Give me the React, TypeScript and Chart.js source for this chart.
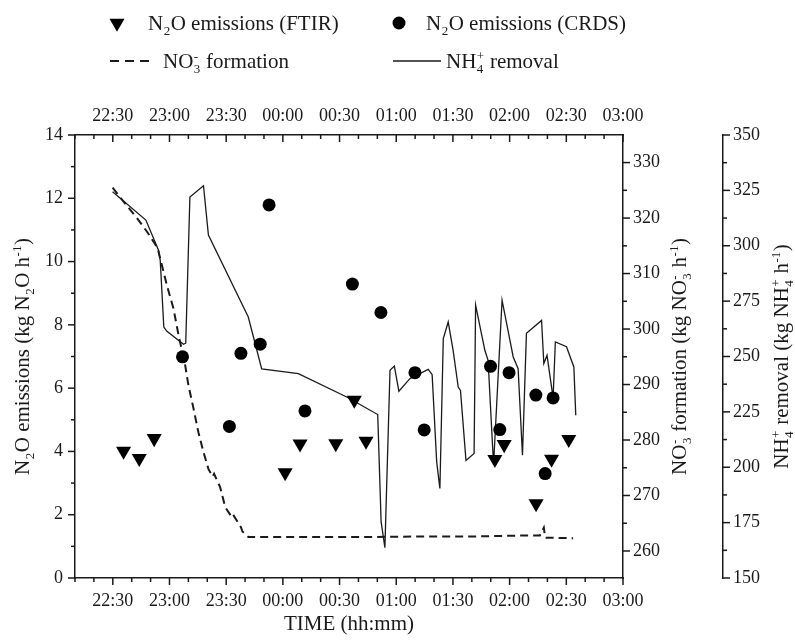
import React, { useEffect, useRef } from "react";
import { Chart, registerables } from "chart.js";

Chart.register(...registerables);

// Time values are minutes after 22:00
const ftirTime = [35.7, 44.0, 51.9, 121.2, 129.1, 148.0, 157.8, 164.0, 232.2, 237.1, 254.0, 262.2, 271.3];
const ftirN2O = [4.01, 3.78, 4.41, 3.33, 4.24, 4.25, 5.62, 4.33, 3.75, 4.22, 2.35, 3.76, 4.38];

const crdsTime = [66.9, 91.7, 97.8, 108.0, 112.7, 131.7, 156.8, 171.9, 189.9, 194.8, 229.9, 234.8, 239.7, 253.9, 258.8, 263.0];
const crdsN2O = [6.99, 4.79, 7.1, 7.39, 11.79, 5.28, 9.29, 8.39, 6.49, 4.68, 6.69, 4.69, 6.49, 5.78, 3.3, 5.69];

const no3Time = [29.9, 37.5, 42.8, 48.4, 53.7, 56.0, 58.6, 62.1, 64.8, 68.3, 70.0, 72.7, 75.3, 78.0, 80.6, 82.8, 83.6, 86.8, 89.5, 92.6, 93.4, 97.8, 98.6, 101.8, 130.0, 160.0, 190.0, 220.0, 250.0, 256.0, 258.1, 258.8, 273.6];
const no3Formation = [325.5, 322.2, 320.0, 317.4, 314.6, 311.5, 307.9, 303.7, 298.9, 293.5, 289.9, 285.7, 281.4, 277.8, 274.8, 273.4, 273.9, 271.5, 267.9, 266.3, 266.7, 264.3, 263.5, 262.5, 262.5, 262.5, 262.6, 262.6, 262.8, 262.8, 264.2, 262.4, 262.3];

const nh4Time = [29.9, 47.5, 54.2, 55.1, 57.0, 58.5, 67.4, 68.6, 70.8, 78.0, 80.6, 101.7, 108.8, 128.2, 153.8, 170.2, 172.0, 174.0, 176.7, 179.0, 181.4, 187.2, 196.9, 199.0, 201.4, 203.1, 204.9, 207.5, 210.1, 212.8, 214.0, 216.9, 221.2, 222.0, 226.9, 228.6, 231.5, 236.0, 241.9, 244.5, 246.8, 248.9, 256.9, 258.1, 259.8, 263.0, 264.2, 270.1, 274.0, 275.0];
const nh4Removal = [324.4, 311.6, 298.0, 293.4, 263.3, 261.5, 255.5, 256.0, 322.0, 327.1, 304.8, 267.8, 244.4, 242.3, 231.7, 223.8, 175.3, 163.7, 243.8, 245.7, 234.3, 240.0, 244.2, 241.8, 202.4, 190.4, 258.1, 265.6, 252.8, 236.2, 234.7, 203.1, 206.2, 273.2, 252.8, 248.3, 201.0, 275.4, 249.8, 244.5, 205.4, 260.5, 266.3, 246.8, 250.5, 231.3, 256.6, 254.4, 245.3, 223.5];

const xTickMinutes = [30, 60, 90, 120, 150, 180, 210, 240, 270, 300];
const n2oTicks = [0, 2, 4, 6, 8, 10, 12, 14];
const no3Ticks = [260, 270, 280, 290, 300, 310, 320, 330];
const nh4Ticks = [150, 175, 200, 225, 250, 275, 300, 325, 350];

const FONT = "'Liberation Serif', 'Times New Roman', serif";
const INK = "#1a1a1a";
const TICK_SIZE = 18;
const TITLE_SIZE = 21;

type Seg = [string, string];

const ftirLabel: Seg[] = [["N", ""], ["2", "sub"], ["O emissions (FTIR)", ""]];
const crdsLabel: Seg[] = [["N", ""], ["2", "sub"], ["O emissions (CRDS)", ""]];
const no3Label: Seg[] = [["NO", ""], ["3|-", "subsup"], [" formation", ""]];
const nh4Label: Seg[] = [["NH", ""], ["4|+", "subsup"], [" removal", ""]];
const leftTitle: Seg[] = [["N", ""], ["2", "sub"], ["O emissions (kg N", ""], ["2", "sub"], ["O h", ""], ["-1", "sup"], [")", ""]];
const no3Title: Seg[] = [["NO", ""], ["3|-", "subsup"], [" formation (kg NO", ""], ["3|-", "subsup"], [" h", ""], ["-1", "sup"], [")", ""]];
const nh4Title: Seg[] = [["NH", ""], ["4|+", "subsup"], [" removal (kg NH", ""], ["4|+", "subsup"], [" h", ""], ["-1", "sup"], [")", ""]];
const timeTitle: Seg[] = [["TIME (hh:mm)", ""]];

function fmtTime(v: number) {
  const total = 22 * 60 + v;
  const h = Math.floor(total / 60) % 24;
  const m = Math.round(total % 60);
  return String(h).padStart(2, "0") + ":" + String(m).padStart(2, "0");
}

function richWidth(ctx: CanvasRenderingContext2D, segs: Seg[], size: number) {
  let w = 0;
  const small = size * 0.62;
  for (const [t, m] of segs) {
    if (m === "") {
      ctx.font = `${size}px ${FONT}`;
      w += ctx.measureText(t).width;
    } else if (m === "subsup") {
      const [a, b] = t.split("|");
      ctx.font = `${small}px ${FONT}`;
      w += Math.max(ctx.measureText(a).width, ctx.measureText(b).width) + 1;
    } else {
      ctx.font = `${small}px ${FONT}`;
      w += ctx.measureText(t).width + 1;
    }
  }
  return w;
}

function drawRich(ctx: CanvasRenderingContext2D, segs: Seg[], x: number, y: number, size: number, align: "left" | "center") {
  const total = richWidth(ctx, segs, size);
  let cx = align === "center" ? x - total / 2 : x;
  const small = size * 0.62;
  ctx.textAlign = "left";
  ctx.textBaseline = "alphabetic";
  ctx.fillStyle = INK;
  for (const [t, m] of segs) {
    if (m === "") {
      ctx.font = `${size}px ${FONT}`;
      ctx.fillText(t, cx, y);
      cx += ctx.measureText(t).width;
    } else if (m === "sub") {
      ctx.font = `${small}px ${FONT}`;
      ctx.fillText(t, cx + 0.5, y + size * 0.25);
      cx += ctx.measureText(t).width + 1;
    } else if (m === "sup") {
      ctx.font = `${small}px ${FONT}`;
      ctx.fillText(t, cx + 0.5, y - size * 0.38);
      cx += ctx.measureText(t).width + 1;
    } else {
      const [a, b] = t.split("|");
      ctx.font = `${small}px ${FONT}`;
      ctx.fillText(a, cx + 0.5, y + size * 0.25);
      ctx.fillText(b, cx + 0.5, y - size * 0.38);
      cx += Math.max(ctx.measureText(a).width, ctx.measureText(b).width) + 1;
    }
  }
}

const MAJOR = 7;
const MINOR = 4;

const decorPlugin = {
  id: "decor",
  afterDraw(chart: any) {
    const ctx: CanvasRenderingContext2D = chart.ctx;
    const area = chart.chartArea;
    const sx = chart.scales.x;
    const sy = chart.scales.y;
    const sNo3 = chart.scales.yNO3;
    const sNh4 = chart.scales.yNH4;
    ctx.save();
    ctx.strokeStyle = INK;
    ctx.lineWidth = 1.5;
    const line = (x1: number, y1: number, x2: number, y2: number) => {
      ctx.beginPath();
      ctx.moveTo(x1, y1);
      ctx.lineTo(x2, y2);
      ctx.stroke();
    };
    for (let v = 10; v <= 300; v += 10) {
      const px = sx.getPixelForValue(v);
      const len = v % 30 === 0 ? MAJOR : MINOR;
      line(px, area.bottom, px, area.bottom + len);
      line(px, area.top, px, area.top + len);
    }
    for (let v = 0; v <= 14; v += 1) {
      const py = sy.getPixelForValue(v);
      const len = v % 2 === 0 ? MAJOR : MINOR;
      line(area.left - len, py, area.left, py);
    }
    for (let v = 260; v <= 330; v += 5) {
      const py = sNo3.getPixelForValue(v);
      const len = v % 10 === 0 ? MAJOR : MINOR;
      line(area.right, py, area.right + len, py);
    }
    for (let v = 150; v <= 350; v += 12.5) {
      const py = sNh4.getPixelForValue(v);
      const len = v % 25 === 0 ? MAJOR : MINOR;
      line(sNh4.left, py, sNh4.left + len, py);
    }

    const midY = (area.top + area.bottom) / 2;
    const capOff = TITLE_SIZE * 0.33;
    ctx.save();
    ctx.translate(22, midY);
    ctx.rotate(-Math.PI / 2);
    drawRich(ctx, leftTitle, 0, capOff, TITLE_SIZE, "center");
    ctx.restore();
    ctx.save();
    ctx.translate(area.right + 56, midY);
    ctx.rotate(-Math.PI / 2);
    drawRich(ctx, no3Title, 0, capOff, TITLE_SIZE, "center");
    ctx.restore();
    ctx.save();
    ctx.translate(sNh4.left + 58, midY);
    ctx.rotate(-Math.PI / 2);
    drawRich(ctx, nh4Title, 0, capOff, TITLE_SIZE, "center");
    ctx.restore();
    drawRich(ctx, timeTitle, (area.left + area.right) / 2, 630, TITLE_SIZE, "center");

    // legend
    const row1 = 23;
    const row2 = 61;
    ctx.fillStyle = "#000";
    const r = 8.7;
    ctx.beginPath();
    ctx.moveTo(117, row1 + r);
    ctx.lineTo(117 - r * 0.866, row1 - r / 2);
    ctx.lineTo(117 + r * 0.866, row1 - r / 2);
    ctx.closePath();
    ctx.fill();
    drawRich(ctx, ftirLabel, 148, row1 + capOff, TITLE_SIZE, "left");
    ctx.fillStyle = "#000";
    ctx.beginPath();
    ctx.arc(399, row1, 6.5, 0, Math.PI * 2);
    ctx.fill();
    drawRich(ctx, crdsLabel, 426, row1 + capOff, TITLE_SIZE, "left");
    ctx.strokeStyle = INK;
    ctx.lineWidth = 2;
    ctx.setLineDash([9, 6]);
    line(110, row2, 153, row2);
    ctx.setLineDash([]);
    drawRich(ctx, no3Label, 163, row2 + capOff, TITLE_SIZE, "left");
    ctx.lineWidth = 1.3;
    line(393, row2, 441, row2);
    drawRich(ctx, nh4Label, 446, row2 + capOff, TITLE_SIZE, "left");
    ctx.restore();
  },
};

const tickFont = { family: FONT, size: TICK_SIZE };
const borderOpt = { display: true, color: INK, width: 1.5 };
const noGrid = { display: false, drawTicks: false };

export default function App() {
  const ref = useRef<HTMLCanvasElement>(null);
  useEffect(() => {
    const chart = new Chart(ref.current as HTMLCanvasElement, {
      type: "line",
      data: {
        datasets: [
          {
            label: "N2O emissions (FTIR)",
            data: ftirTime.map((t, i) => ({ x: t, y: ftirN2O[i] })),
            showLine: false,
            pointStyle: "triangle",
            rotation: 180,
            pointRadius: 8.7,
            pointBackgroundColor: "#000",
            pointBorderColor: "#000",
            pointBorderWidth: 0,
            xAxisID: "x",
            yAxisID: "y",
          },
          {
            label: "N2O emissions (CRDS)",
            data: crdsTime.map((t, i) => ({ x: t, y: crdsN2O[i] })),
            showLine: false,
            pointStyle: "circle",
            pointRadius: 6.5,
            pointBackgroundColor: "#000",
            pointBorderColor: "#000",
            pointBorderWidth: 0,
            xAxisID: "x",
            yAxisID: "y",
          },
          {
            label: "NO3- formation",
            data: no3Time.map((t, i) => ({ x: t, y: no3Formation[i] })),
            borderColor: INK,
            borderWidth: 2,
            borderDash: [8, 5],
            pointRadius: 0,
            tension: 0,
            fill: false,
            xAxisID: "x",
            yAxisID: "yNO3",
          },
          {
            label: "NH4+ removal",
            data: nh4Time.map((t, i) => ({ x: t, y: nh4Removal[i] })),
            borderColor: INK,
            borderWidth: 1.3,
            pointRadius: 0,
            tension: 0,
            fill: false,
            xAxisID: "x",
            yAxisID: "yNH4",
          },
        ],
      },
      options: {
        animation: false,
        responsive: true,
        maintainAspectRatio: false,
        layout: { padding: 0 },
        plugins: { legend: { display: false }, title: { display: false }, tooltip: { enabled: false } },
        scales: {
          x: {
            type: "linear",
            position: "bottom",
            min: 10,
            max: 300,
            afterBuildTicks: (s: any) => { s.ticks = xTickMinutes.map((v) => ({ value: v })); },
            afterFit: (s: any) => { s.height = 65; },
            ticks: { callback: (v: any) => fmtTime(Number(v)), font: tickFont, color: INK, padding: 12, maxRotation: 0, autoSkip: false },
            grid: noGrid,
            border: borderOpt,
          },
          x2: {
            type: "linear",
            position: "top",
            min: 10,
            max: 300,
            afterBuildTicks: (s: any) => { s.ticks = xTickMinutes.map((v) => ({ value: v })); },
            afterFit: (s: any) => { s.height = 135; },
            ticks: { callback: (v: any) => fmtTime(Number(v)), font: tickFont, color: INK, padding: 8, maxRotation: 0, autoSkip: false },
            grid: noGrid,
            border: borderOpt,
          },
          y: {
            type: "linear",
            position: "left",
            min: 0,
            max: 14,
            afterBuildTicks: (s: any) => { s.ticks = n2oTicks.map((v) => ({ value: v })); },
            afterFit: (s: any) => { s.width = 75; },
            ticks: { font: tickFont, color: INK, padding: 12 },
            grid: noGrid,
            border: borderOpt,
          },
          yNO3: {
            type: "linear",
            position: "right",
            weight: 1,
            min: 255.13,
            max: 334.97,
            afterBuildTicks: (s: any) => { s.ticks = no3Ticks.map((v) => ({ value: v })); },
            afterFit: (s: any) => { s.width = 100; },
            ticks: { font: tickFont, color: INK, padding: 10 },
            grid: noGrid,
            border: borderOpt,
          },
          yNH4: {
            type: "linear",
            position: "right",
            weight: 2,
            min: 150,
            max: 350,
            afterBuildTicks: (s: any) => { s.ticks = nh4Ticks.map((v) => ({ value: v })); },
            afterFit: (s: any) => { s.width = 72; },
            ticks: { font: tickFont, color: INK, padding: 10 },
            grid: noGrid,
            border: borderOpt,
          },
        },
      } as any,
      plugins: [decorPlugin],
    } as any);
    return () => chart.destroy();
  }, []);
  return (
    <div style={{ position: "fixed", left: 0, top: 0, width: 795, height: 643, background: "#fff" }}>
      <canvas ref={ref} />
    </div>
  );
}
